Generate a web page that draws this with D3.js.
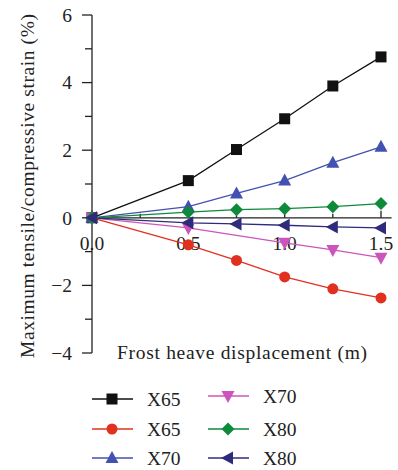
<!DOCTYPE html>
<html><head><meta charset="utf-8">
<script src="https://cdn.jsdelivr.net/npm/d3@7"></script>
<style>body{margin:0;background:#fff}svg{display:block}text{font-family:"Liberation Serif","DejaVu Serif",serif;fill:#222}</style>
</head><body><svg id="c" width="398" height="470"></svg>
<script>
const xTicks=[0,0.5,1.0,1.5];
const xTickLabels=["0.0","0.5","1.0","1.5"];
const yTicks=[-4,-2,0,2,4,6];
const xMinorTicks=[0.25,0.75,1.25];
const yMinorTicks=[-3,-1,1,3,5];
const x5=[0,0.5,0.75,1.0,1.25,1.5];
const xMag=[0,0.5,1.0,1.25,1.5];
const x65Tensile=[0,1.1,2.02,2.93,3.9,4.76];
const x65Comp=[0,-0.8,-1.26,-1.75,-2.1,-2.37];
const x70Tensile=[0,0.33,0.72,1.1,1.63,2.1];
const x70Comp=[0,-0.3,-0.74,-0.95,-1.18];
const x80Tensile=[0,0.17,0.24,0.27,0.33,0.42];
const x80Comp=[0,-0.15,-0.18,-0.22,-0.27,-0.3];

const series=[
 {name:"X65",xs:x5,ys:x65Tensile,color:"#111111",sym:"square"},
 {name:"X65",xs:x5,ys:x65Comp,color:"#e2301f",sym:"circle"},
 {name:"X70",xs:x5,ys:x70Tensile,color:"#4351b0",sym:"up"},
 {name:"X70",xs:xMag,ys:x70Comp,color:"#cc55bb",sym:"down"},
 {name:"X80",xs:x5,ys:x80Tensile,color:"#0d8a3a",sym:"diamond"},
 {name:"X80",xs:x5,ys:x80Comp,color:"#2f2b7c",sym:"left"}
];

const svg=d3.select("#c");
const x=d3.scaleLinear().domain([0,1.5]).range([92,381]);
const y=d3.scaleLinear().domain([-4,6]).range([353,15]);
const FS=19.5;

function marker(g,sym,color){
  let p;
  if(sym==="square") p=g.append("rect").attr("x",-5.5).attr("y",-5.5).attr("width",11).attr("height",11);
  else if(sym==="circle") p=g.append("circle").attr("r",5.5);
  else if(sym==="up") p=g.append("path").attr("d","M0,-7L6.5,5L-6.5,5Z");
  else if(sym==="down") p=g.append("path").attr("d","M0,7L6.5,-5L-6.5,-5Z");
  else if(sym==="diamond") p=g.append("path").attr("d","M0,-6.5L6.5,0L0,6.5L-6.5,0Z");
  else if(sym==="left") p=g.append("path").attr("d","M-7,0L5,-6.5L5,6.5Z");
  p.attr("fill",color);
}

// axes
const ax=svg.append("g").attr("stroke","#222").attr("stroke-width",1.3);
ax.append("line").attr("x1",x(0)).attr("x2",x(0)).attr("y1",y(6)).attr("y2",y(-4));
ax.append("line").attr("x1",x(0)).attr("x2",x(1.555)).attr("y1",y(0)).attr("y2",y(0));
yTicks.forEach(t=>ax.append("line").attr("x1",x(0)-10).attr("x2",x(0)).attr("y1",y(t)).attr("y2",y(t)));
yMinorTicks.forEach(t=>ax.append("line").attr("x1",x(0)-7).attr("x2",x(0)).attr("y1",y(t)).attr("y2",y(t)));
xTicks.forEach(t=>ax.append("line").attr("x1",x(t)).attr("x2",x(t)).attr("y1",y(0)).attr("y2",y(0)-7));
xMinorTicks.forEach(t=>ax.append("line").attr("x1",x(t)).attr("x2",x(t)).attr("y1",y(0)).attr("y2",y(0)-4));

yTicks.forEach(t=>svg.append("text").attr("x",x(0)-20).attr("y",y(t)).attr("dy","0.35em").attr("text-anchor","end").attr("font-size",FS).text(t<0?"\u2212"+(-t):t));
xTicks.forEach((t,i)=>svg.append("text").attr("x",x(t)).attr("y",y(0)+32).attr("text-anchor","middle").attr("font-size",FS).text(xTickLabels[i]));

svg.append("text").attr("x",242).attr("y",359).attr("text-anchor","middle").attr("font-size",FS)
  .attr("textLength",250).attr("lengthAdjust","spacing").text("Frost heave displacement (m)");
svg.append("text").attr("transform","translate(34,186) rotate(-90)").attr("text-anchor","middle").attr("font-size",FS)
  .attr("textLength",344).attr("lengthAdjust","spacing").text("Maximum tensile/compressive strain (%)");

const line=d3.line().x(d=>x(d[0])).y(d=>y(d[1]));
series.forEach(s=>{
  const pts=s.xs.map((v,i)=>[v,s.ys[i]]);
  svg.append("path").attr("d",line(pts)).attr("fill","none").attr("stroke",s.color).attr("stroke-width",1.3);
});
series.forEach(s=>{
  s.xs.forEach((v,i)=>{
    const g=svg.append("g").attr("transform",`translate(${x(v)},${y(s.ys[i])})`);
    marker(g,s.sym,s.color);
  });
});

// legend
const legPos=[[92,399],[92,429],[92,458],[208,396],[208,429],[208,458]];
series.forEach((s,i)=>{
  const [lx,ly]=legPos[i];
  svg.append("line").attr("x1",lx).attr("x2",lx+41).attr("y1",ly).attr("y2",ly).attr("stroke",s.color).attr("stroke-width",1.3);
  marker(svg.append("g").attr("transform",`translate(${lx+20},${ly})`),s.sym,s.color);
  svg.append("text").attr("x",lx+55).attr("y",ly).attr("dy","0.35em").attr("font-size",FS).text(s.name);
});
</script></body></html>
